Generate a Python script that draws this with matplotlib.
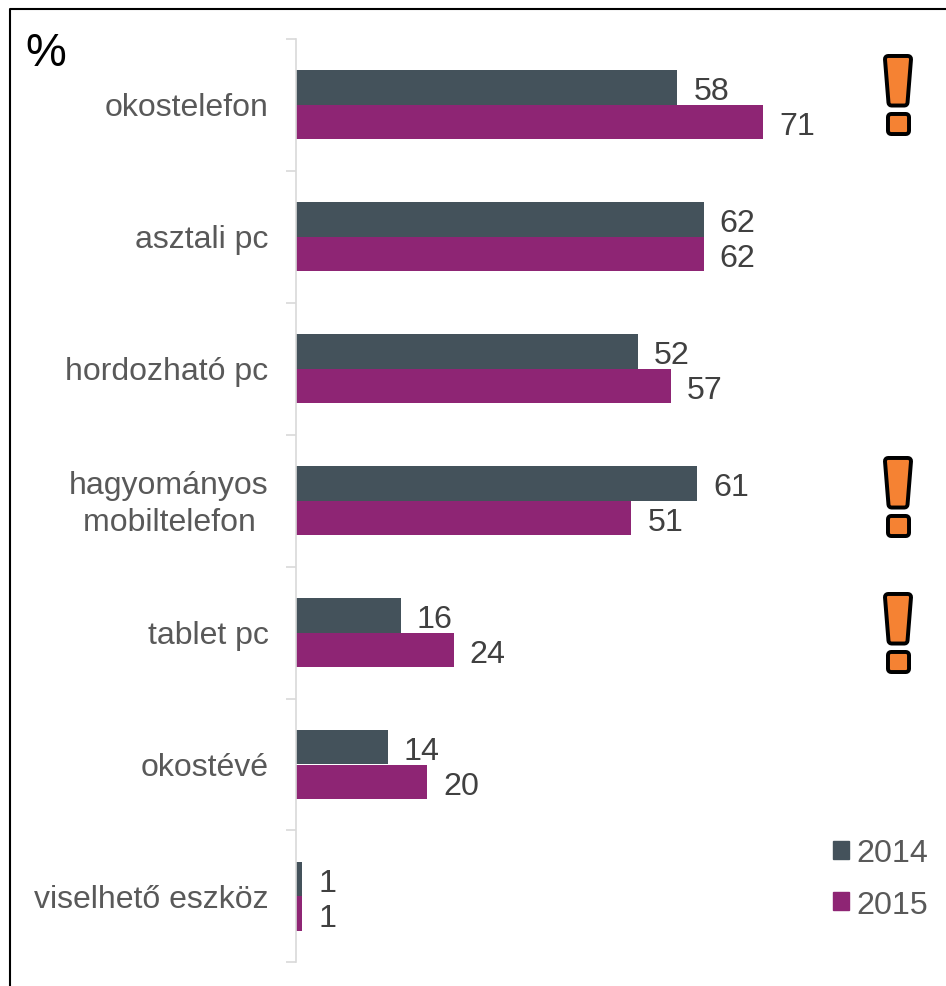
import numpy as np
import matplotlib.pyplot as plt
from matplotlib.lines import Line2D
from matplotlib.patches import Patch, Polygon
from matplotlib.transforms import Affine2D

categories = ['okostelefon', 'asztali pc', 'hordozható pc', 'hagyományos\nmobiltelefon\u2009\u2009',
              'tablet pc', 'okostévé', 'viselhető eszköz']
values_2014 = [58, 62, 52, 61, 16, 14, 1]
values_2015 = [71, 62, 57, 51, 24, 20, 1]
# top of each warning sign, in pixels
warning_tops = [55, 457, 593]

W, H = 946, 987
dark = '#44525B'
purple = '#8E2574'
orange = '#F58233'

plt.rcParams['font.family'] = ['Liberation Sans', 'DejaVu Sans']

fig = plt.figure(figsize=(W / 100, H / 100), dpi=100)
# axes: left edge at 295.5 px, y from 39.5 to 963.5 px, 6.585 px per percent
ax = fig.add_axes([295.5 / W, 1 - 963.5 / H, (W - 295.5) / W, 924 / H])
ax.patch.set_alpha(0)

pos = np.arange(len(categories)) + 0.5
bar_h = 34.5 / 132
b1 = ax.barh(pos - bar_h / 2, values_2014, bar_h, color=dark, label='2014')
b2 = ax.barh(pos + bar_h / 2, values_2015, bar_h, color=purple, label='2015')
for bars in (b1, b2):
    for lab in ax.bar_label(bars, padding=11.5, fontsize=23.2, color='#404040'):
        lab.xyann = (11.5, -2.8)

ax.set_xlim(0, (W - 295.5) / 6.585)
ax.set_ylim(len(categories), 0)
ax.xaxis.set_visible(False)

for s in ['top', 'right', 'bottom']:
    ax.spines[s].set_visible(False)
ax.spines['left'].set_color('#D9D9D9')
ax.spines['left'].set_linewidth(1.2)

ax.set_yticks(np.arange(len(categories) + 1))
ax.set_yticklabels([])
ax.set_yticks(pos, categories, minor=True)
ax.tick_params(axis='y', which='major', length=7, width=1.2, color='#D9D9D9')
ax.tick_params(axis='y', which='minor', length=0, pad=19.5, labelsize=23, labelcolor='#595959')
for lab in ax.get_yticklabels(minor=True):
    lab.set_multialignment('right')
    lab.set_linespacing(1.32)
    # two line label sits too low with center_baseline
    up = 4 if '\n' in lab.get_text() else 1
    lab.set_transform(lab.get_transform() + Affine2D().translate(0, up))

ax.legend(handles=[Patch(color=dark, label='2014'), Patch(color=purple, label='2015')],
          loc='lower right', bbox_to_anchor=(0.9875, 0.036), frameon=False, fontsize=23.2,
          labelcolor='#595959', handlelength=0.5, handleheight=0.5, handletextpad=0.22,
          labelspacing=0.66, borderaxespad=0, borderpad=0.3)

# everything below is placed in pixels from the top left corner
px = Affine2D().scale(1, -1).translate(0, H)

fig.add_artist(Line2D([9.5, 9.5, W], [H, 9.5, 9.5], transform=px, color='black', lw=1.5))
fig.text(25 / W, 1 - 65.5 / H, '%', fontsize=33, color='black')


def warning(top):
    body = [(888, top + 5), (908, top + 5), (904.5, top + 48.5), (891.5, top + 48.5)]
    dot = [(891, top + 63), (906, top + 63), (906, top + 76.5), (891, top + 76.5)]
    for shape in (body, dot):
        fig.add_artist(Polygon(shape, closed=True, transform=px, joinstyle='round',
                               facecolor='black', edgecolor='black', lw=7.2))
        fig.add_artist(Polygon(shape, closed=True, transform=px, joinstyle='round',
                               facecolor=orange, edgecolor=orange, lw=1.5))


for top in warning_tops:
    warning(top)

fig.savefig('out.png', dpi=100)
